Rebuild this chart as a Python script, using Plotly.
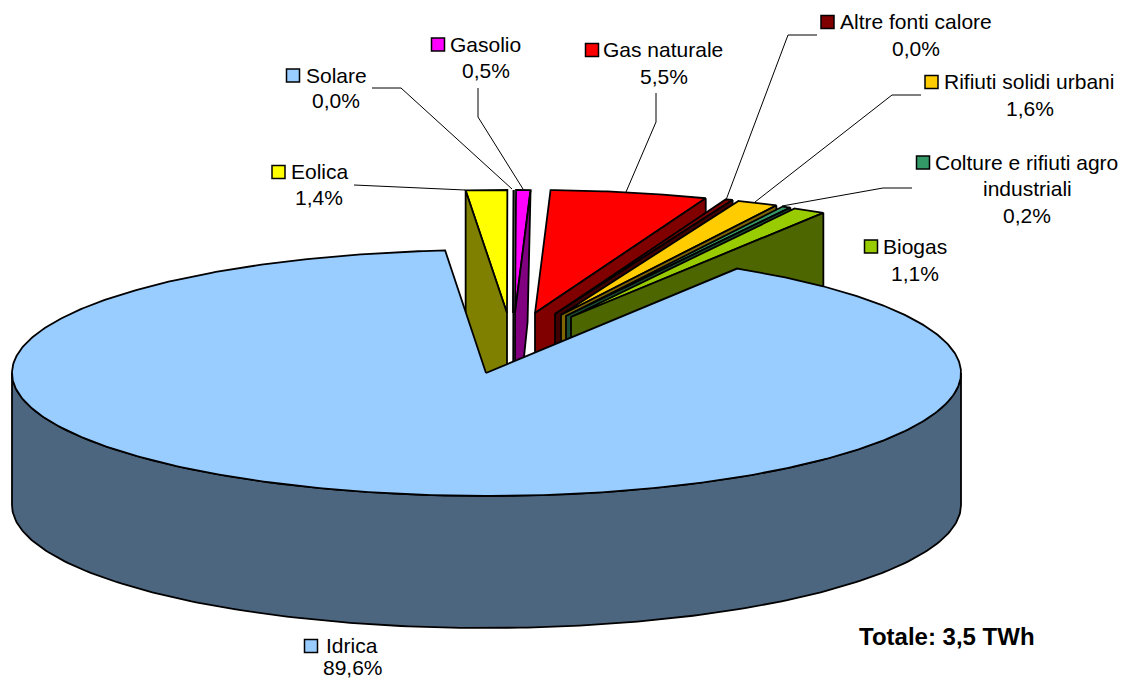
import numpy as np
import plotly.graph_objects as go

# Data (clockwise from the top of the pie)
categories = ["Eolica", "Solare", "Gasolio", "Gas naturale", "Altre fonti calore",
              "Rifiuti solidi urbani", "Colture e rifiuti agro industriali", "Biogas", "Idrica"]
values = [1.4, 0.01, 0.5, 5.5, 0.04, 1.6, 0.2, 1.1, 89.6]
percent_labels = ["1,4%", "0,0%", "0,5%", "5,5%", "0,0%", "1,6%", "0,2%", "1,1%", "89,6%"]
top_colors = ["#FFFF00", "#99CCFF", "#FF00FF", "#FF0000", "#800000", "#FFCC00", "#339966", "#99CC00", "#99CCFF"]
side_colors = ["#808000", "#4D6680", "#800080", "#800000", "#400000", "#806600", "#1A4D33", "#4D6600", "#4D6680"]

# Pie geometry (pixel-like axes)
RX, RY, DEPTH = 474.5, 123.0, 132.0
START_DEG = 95.0
apex_x = [507, 513, 515, 535, 555, 561, 566, 571, 486]
apex_y = [313, 313, 313, 313, 314, 315, 316, 317, 373]
side_lean = [0, 0, -3, 0, 0, 0, 0, 0, 0]
start_nudge = [0, 0, 0, 0, 0.7, 0, 0.6, 0.3, 0.4]
end_nudge = [0, 0, 0, 0.6, -0.15, 0.6, 0.1, 0.15, 0]

total = sum(values)
spans = [v / total * 360 for v in values]
ends = START_DEG - np.cumsum(spans) + np.array(end_nudge)
starts = START_DEG - np.cumsum(spans) + np.array(spans) + np.array(start_nudge)


def rim(cx, cy, a, b, n=200):
    t = np.radians(np.linspace(a, b, n))
    return cx + RX * np.cos(t), cy - RY * np.sin(t)


fig = go.Figure()


def poly(xs, ys, color, width=1.8):
    xs = list(xs) + [xs[0]]
    ys = list(ys) + [ys[0]]
    fig.add_trace(go.Scatter(x=xs, y=ys, mode="lines", fill="toself", fillcolor=color,
                             line=dict(color="black", width=width), hoverinfo="skip",
                             showlegend=False, cliponaxis=False))


# Exploded slices, back to front: top then cut face
for i in range(8):
    cx, cy = apex_x[i], apex_y[i]
    rx, ry = rim(cx, cy, starts[i], ends[i], 40)
    ex, ey = (rx[0], ry[0]) if i == 0 else (rx[-1], ry[-1])
    poly([cx] + list(rx), [cy] + list(ry), top_colors[i])
    poly([ex, cx, cx, ex + side_lean[i]], [ey, cy, cy + DEPTH, ey + DEPTH], side_colors[i])

# Main slice: outer wall then top
cx, cy = apex_x[8], apex_y[8]
wx, wy = rim(486.5, cy, 180, 360, 200)
poly(list(wx) + list(wx[::-1]), list(wy) + list(wy[::-1] + DEPTH), side_colors[8])
tx, ty = rim(486.5, cy, starts[8], ends[8], 500)
poly([cx] + list(tx), [cy] + list(ty), top_colors[8])

# Leader lines
leader_x = [[354, 465], [372, 401, 512], [478, 478, 523], [656, 656, 626],
            [817, 788, 726], [921, 892, 755], [912, 883, 782]]
leader_y = [[185, 190], [88, 88, 189], [88, 117, 189], [93, 122, 192],
            [35, 35, 200], [95, 95, 202], [188, 188, 206]]
for lx, ly in zip(leader_x, leader_y):
    fig.add_trace(go.Scatter(x=lx, y=ly, mode="lines", line=dict(color="black", width=1),
                             hoverinfo="skip", showlegend=False, cliponaxis=False))

# Label keys
key_x = [278.5, 293, 438, 592, 827.5, 931.5, 923, 871, 311]
key_y = [172, 75.5, 44.5, 50, 22, 82, 162.5, 246.5, 646]
fig.add_trace(go.Scatter(x=key_x, y=key_y, mode="markers", hoverinfo="skip", showlegend=False,
                         cliponaxis=False,
                         marker=dict(symbol="square", size=13, color=top_colors,
                                     line=dict(color="black", width=1.5))))

FONT = "Liberation Sans, Arial, sans-serif"
SIZE = 21
name_lines = ["Eolica", "Solare", "Gasolio", "Gas naturale", "Altre fonti calore",
              "Rifiuti solidi urbani", "Colture e rifiuti agro", "Biogas", "Idrica"]
name_x = [291, 306, 450, 603, 840, 944, 935, 883, 326]
name_y = [171, 75, 44, 49, 21, 81, 162, 246, 645]
pct_x = [319, 336, 486, 663.5, 916, 1029.5, 1027, 915, 353]
pct_y = [197, 100, 70, 76, 48, 108, 215, 273, 667.5]


def ann(x, y, text, anchor, size=SIZE):
    return dict(x=x, y=y, text=text, xanchor=anchor, yanchor="middle", showarrow=False,
                borderpad=0, borderwidth=0, font=dict(family=FONT, size=size, color="black"))


annotations = [ann(x, y, n, "left") for n, x, y in zip(name_lines, name_x, name_y)]
annotations += [ann(x, y, p, "center") for p, x, y in zip(percent_labels, pct_x, pct_y)]
annotations.append(ann(1027, 188, "industriali", "center"))
annotations.append(ann(859, 636.5, "<b>Totale: 3,5 TWh</b>", "left", size=24))

fig.update_layout(
    width=1123, height=680, margin=dict(l=0, r=0, t=0, b=0),
    paper_bgcolor="white", plot_bgcolor="white", showlegend=False,
    xaxis=dict(range=[0, 1123], visible=False, fixedrange=True),
    yaxis=dict(range=[680, 0], visible=False, fixedrange=True),
    annotations=annotations,
)
fig.write_html("out.html", config=dict(displayModeBar=False),
               post_script="document.body.style.margin='0';document.body.style.overflow='hidden';")
